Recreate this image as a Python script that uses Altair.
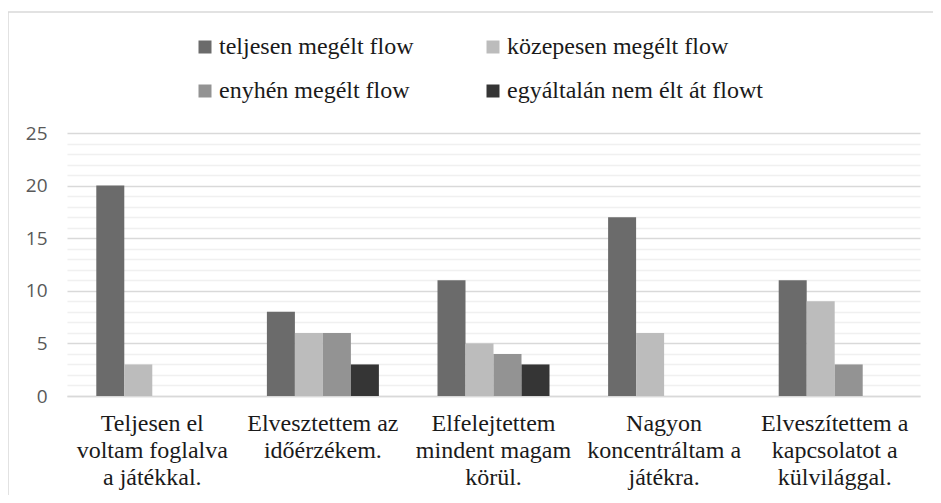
import altair as alt
import pandas as pd

categories = [
    "Teljesen el\nvoltam foglalva\na játékkal.",
    "Elvesztettem az\nidőérzékem.",
    "Elfelejtettem\nmindent magam\nkörül.",
    "Nagyon\nkoncentráltam a\njátékra.",
    "Elveszítettem a\nkapcsolatot a\nkülvilággal.",
]
series = [
    "teljesen megélt flow",
    "közepesen megélt flow",
    "enyhén megélt flow",
    "egyáltalán nem élt át flowt",
]
colors = ["#6b6b6b", "#bcbcbc", "#939393", "#353535"]
teljesen = [20, 8, 11, 17, 11]
kozepesen = [3, 6, 5, 6, 9]
enyhen = [0, 6, 4, 0, 3]
egyaltalan = [0, 3, 3, 0, 0]

rows = []
for s, vals in zip(series, [teljesen, kozepesen, enyhen, egyaltalan]):
    for c, v in zip(categories, vals):
        rows.append({"category": c, "series": s, "value": v})
df = pd.DataFrame(rows)

SERIF = "'Liberation Serif', 'Times New Roman', 'DejaVu Serif', serif"
grid_cond = {"condition": {"test": "datum.value % 5 === 0", "value": "#d9d9d9"}, "value": "#f0f0f0"}

bars = alt.Chart(df).mark_bar().encode(
    x=alt.X("category:N", sort=categories, title=None,
            scale=alt.Scale(paddingInner=0.3435, paddingOuter=0.1717),
            axis=alt.Axis(labelAngle=0, labelExpr="split(datum.label, '\\n')",
                          labelFont=SERIF, labelFontSize=24,
                          labelColor="#1a1a1a", labelLineHeight=27,
                          labelPadding=15, ticks=False, domainColor="#d9d9d9",
                          domainWidth=1.5, labelBaseline="top", labelLimit=0)),
    xOffset=alt.XOffset("series:N", sort=series,
                        scale=alt.Scale(paddingInner=0, paddingOuter=0)),
    y=alt.Y("value:Q", title=None,
            scale=alt.Scale(domain=[0, 25], nice=False),
            axis=alt.Axis(values=list(range(26)),
                          labelExpr="datum.value % 5 === 0 ? datum.label : ''",
                          labelFont="Open Sans", labelFontSize=19,
                          labelColor="#595959", labelPadding=20,
                          ticks=False, domain=False,
                          gridColor=grid_cond, gridWidth=1.5)),
    color=alt.Color("series:N", sort=series,
                    scale=alt.Scale(domain=series, range=colors),
                    legend=alt.Legend(title=None, orient="none", legendX=126, legendY=-98,
                                      direction="horizontal",
                                      columns=2, symbolType="square", symbolSize=169,
                                      symbolStrokeWidth=0, labelFont=SERIF,
                                      labelFontSize=24, labelColor="#1a1a1a", labelLimit=0,
                                      labelOffset=2, columnPadding=67, rowPadding=20)),
)

one = pd.DataFrame({"a": [0]})
border_left = alt.Chart(one).mark_rule(color="#d9d9d9", strokeWidth=1.5).encode(
    x=alt.value(-59), y=alt.value(-121), y2=alt.value(380))
border_top = alt.Chart(one).mark_rule(color="#d9d9d9", strokeWidth=1.5).encode(
    x=alt.value(-59), x2=alt.value(870), y=alt.value(-121))

chart = alt.layer(bars, border_left, border_top).properties(
    width=853, height=263,
    autosize=alt.AutoSizeParams(type="none"),
    padding={"left": 59, "top": 125, "right": 13, "bottom": 99},
).configure_view(stroke=None)

chart.save("out.html", embed_options={"renderer": "svg", "actions": False})
